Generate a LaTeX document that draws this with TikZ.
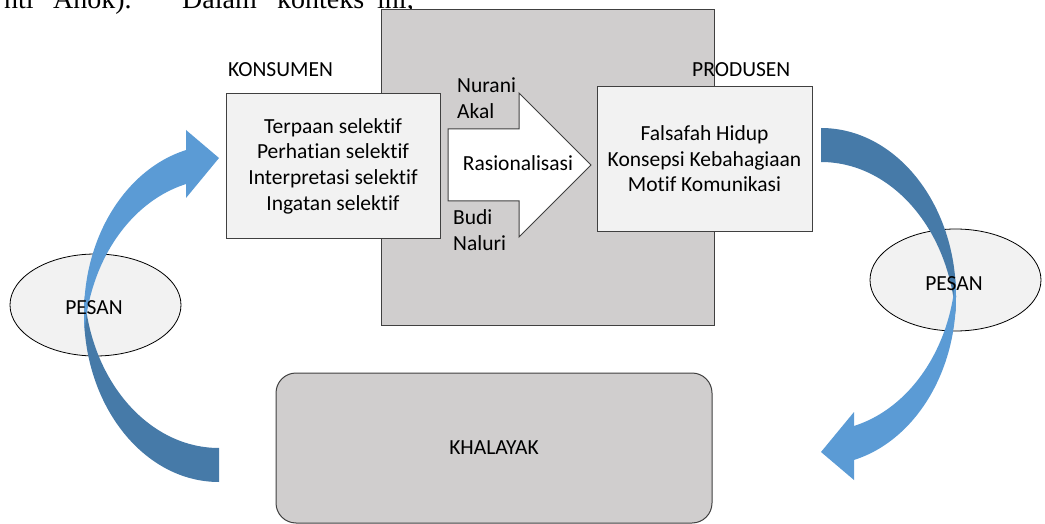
\documentclass[tikz,border=0pt]{standalone}
\usepackage{fontspec}
\setmainfont{Carlito}[Ligatures=NoCommon]
\newfontfamily\bodyserif{Liberation Serif}
\usetikzlibrary{shapes.geometric}
\definecolor{boxgray}{HTML}{D0CECE}
\definecolor{boxlight}{HTML}{F2F2F2}
\definecolor{edgegray}{HTML}{404040}
\definecolor{arrowlight}{HTML}{5B9BD5}
\definecolor{arrowdark}{HTML}{467AA8}
% curved arrow, drawn round the centre of its outer ellipse
\newcommand{\pesanarrow}{%
  \begin{scope}
    \clip (-140,-17) rectangle (0,175);
    \fill[arrowdark, even odd rule] (0,0) ellipse [x radius=135, y radius=168.5]
      (0,-34) ellipse [x radius=135, y radius=168.5];
  \end{scope}
  \begin{scope}
    \clip (-140,17) rectangle (-33,-175);
    \fill[arrowlight, even odd rule] (0,0) ellipse [x radius=135, y radius=168.5]
      (0,34) ellipse [x radius=135, y radius=168.5];
  \end{scope}
  \fill[arrowlight] (-33,-183.5) -- (0,-155.5) -- (-33,-115.5) -- cycle;
}
\begin{document}
\begin{tikzpicture}[x=1pt,y=-1pt,
  every node/.style={font=\fontsize{21.5}{25.6}\selectfont, inner sep=0pt},
  frame/.style={draw=edgegray, line width=1pt},
  graybox/.style={frame, fill=boxgray},
  lightbox/.style={frame, fill=boxlight, align=center, minimum width=214, minimum height=144},
  pesan/.style={draw=black, line width=0.8pt, fill=boxlight, ellipse, minimum width=171, minimum height=102},
  para/.style={font=\bodyserif\fontsize{28}{30}\selectfont, anchor=base west}]
  \useasboundingbox (0,0) rectangle (1045,524);
  % paragraph text above the figure
  \node[para] (txtA) at (4,9) {nti};
  \node[para] (txtB) at (53,9) {Anok).};
  \node[para] (txtC) at (182,9) {Dalam};
  \node[para] (txtD) at (277,9) {konteks};
  \node[para] (txtE) at (377,9) {ini,};
  % context frame
  \node[graybox, minimum width=333, minimum height=315] (ctx) at (547.5,167.5) {};
  \node[lightbox] (kons) at (333,166)
    {Terpaan selektif\\Perhatian selektif\\Interpretasi selektif\\Ingatan selektif};
  \node[lightbox, minimum width=215] (prod) at (704.5,159)
    {Falsafah Hidup\\Konsepsi Kebahagiaan\\Motif Komunikasi};
  \node[anchor=base west] (konsL) at (228,77) {KONSUMEN};
  \node[anchor=base west] (prodL) at (692,77) {PRODUSEN};
  % rationalisation arrow
  \draw[frame, fill=white] (448,129) -- (519,129) -- (519,93) -- (591,165)
    -- (519,237) -- (519,201) -- (448,201) -- cycle;
  \node[anchor=base] (rasio) at (518,171) {Rasionalisasi};
  \node[anchor=base west] (nurani) at (457,93) {Nurani};
  \node[anchor=base west] (akal) at (457,119) {Akal};
  \node[anchor=base west] (budi) at (453,225) {Budi};
  \node[anchor=base west] (naluri) at (453,250) {Naluri};
  % audience
  \node[graybox, rounded corners=20, minimum width=436, minimum height=150] (audience)
    at (494,448) {KHALAYAK};
  % messages
  \node[pesan] (pesanL) at (95.5,305) {};
  \node[pesan] (pesanR) at (955.5,280) {};
  \coordinate (bendL) at (219,313.5);
  \coordinate (bendR) at (821,296.5);
  \begin{scope}[shift={(bendL)}] \pesanarrow \end{scope}
  \begin{scope}[shift={(bendR)}, rotate=180] \pesanarrow \end{scope}
  \node[anchor=base] (pesanLtxt) at (94,314) {PESAN};
  \node[anchor=base] (pesanRtxt) at (954,290) {PESAN};
\end{tikzpicture}
\end{document}
